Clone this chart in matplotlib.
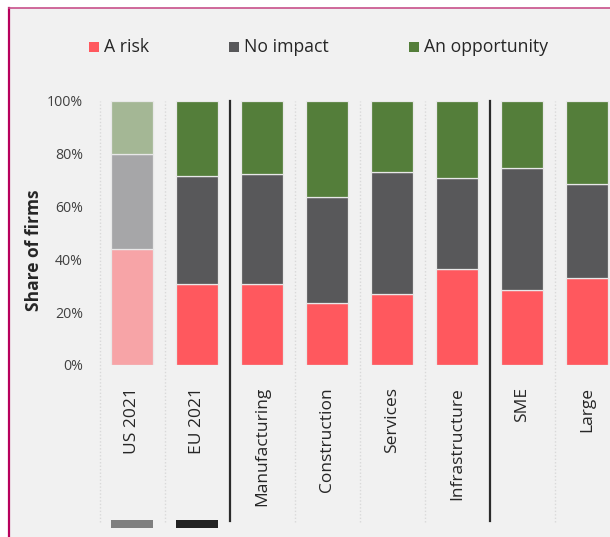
import matplotlib
matplotlib.use("Agg")
import matplotlib.pyplot as plt
import matplotlib.transforms as mtransforms
from matplotlib.patches import Rectangle
from matplotlib.lines import Line2D
import numpy as np

plt.rcParams['font.family'] = ['Open Sans', 'DejaVu Sans']

# Données
categories = ['US 2021', 'EU 2021', 'Manufacturing', 'Construction',
              'Services', 'Infrastructure', 'SME', 'Large']
risk = [44, 30.5, 30.5, 23.5, 27, 36.5, 28.5, 33]
no_impact = [36, 41, 42, 40, 46, 34.5, 46, 35.5]
opportunity = [100 - r - n for r, n in zip(risk, no_impact)]
series_names = ['A risk', 'No impact', 'An opportunity']

# Couleurs
col_main = ['#FF585E', '#58585A', '#547E3A']
col_light = ['#F7A4A7', '#A6A6A8', '#A4B795']
marker_cols = ['#7F7F7F', '#222222']   # petites barres sous US / EU

W, H = 610, 537
fig = plt.figure(figsize=(W / 100, H / 100), dpi=100)
fig.patch.set_facecolor('white')

# fond gris + bordure
fig.add_artist(Rectangle((8 / W, 0), 1, 1 - 8 / H, transform=fig.transFigure,
                         facecolor='#F1F1F1', edgecolor='none', zorder=-10))
fig.add_artist(Line2D([8.5 / W, 8.5 / W], [0, 1 - 7.5 / H], transform=fig.transFigure,
                      color='#B8005C', lw=1.6))
fig.add_artist(Line2D([8.5 / W, 1], [1 - 7.5 / H, 1 - 7.5 / H], transform=fig.transFigure,
                      color='#C8508A', lw=1.2))

ax = fig.add_axes([99.5 / W, 1 - 365 / H, (W - 99.5) / W, 264 / H])
ax.set_facecolor('none')

x = np.arange(len(categories))
bottom = np.zeros(len(categories))
for k, vals in enumerate([risk, no_impact, opportunity]):
    colors = [col_light[k]] + [col_main[k]] * (len(categories) - 1)
    ax.bar(x, vals, width=0.65, bottom=bottom, color=colors,
           edgecolor='#E8E8E8', linewidth=0.9, zorder=3)
    bottom += np.array(vals)

ax.set_xlim(-0.5, (W - 132) / 65.0)
ax.set_ylim(0, 100)

# séparateurs verticaux
for b in [-0.5, 0.5, 2.5, 3.5, 4.5, 6.5]:
    ax.axvline(b, ymin=-0.595, ymax=1.0, color='#D9D9D9', lw=1,
               linestyle=(0, (1, 1.5)), clip_on=False, zorder=1)
for b in [1.5, 5.5]:
    ax.axvline(b, ymin=-0.59, ymax=1.0, color='#2B2B2B', lw=1.6,
               clip_on=False, zorder=2)

# petites barres sous les deux premières colonnes
trans = mtransforms.blended_transform_factory(ax.transData, ax.transAxes)
for i, c in enumerate(marker_cols):
    ax.add_patch(Rectangle((x[i] - 0.325, -(528 - 365) / 264), 0.65, 8 / 264,
                           transform=trans, facecolor=c, edgecolor='none',
                           clip_on=False))

ax.set_yticks([0, 20, 40, 60, 80, 100])
ax.set_yticklabels([f'{v}%' for v in [0, 20, 40, 60, 80, 100]],
                   fontsize=10.2, color='#404040')
ax.tick_params(axis='y', length=0, pad=12)
ax.set_xticks(x)
ax.set_xticklabels(categories, rotation=90, fontsize=12.5, color='#262626', va='top')
ax.tick_params(axis='x', length=0, pad=16)
for s in ax.spines.values():
    s.set_visible(False)

ax.set_ylabel('Share of firms', fontsize=12.5, fontweight='bold', color='#262626')
ax.yaxis.set_label_coords(-0.11, 0.436)

# légende
leg_x = [89, 229, 409]
for name, c, lx in zip(series_names, col_main, leg_x):
    fig.add_artist(Rectangle((lx / W, 1 - 52.3 / H), 10 / W, 10 / H,
                             transform=fig.transFigure, facecolor=c, edgecolor='none'))
    fig.text((lx + 15) / W, 1 - 47.5 / H, name, fontsize=12.7, color='#262626',
             va='center', ha='left')

fig.savefig('out.png', dpi=100, facecolor=fig.get_facecolor())
